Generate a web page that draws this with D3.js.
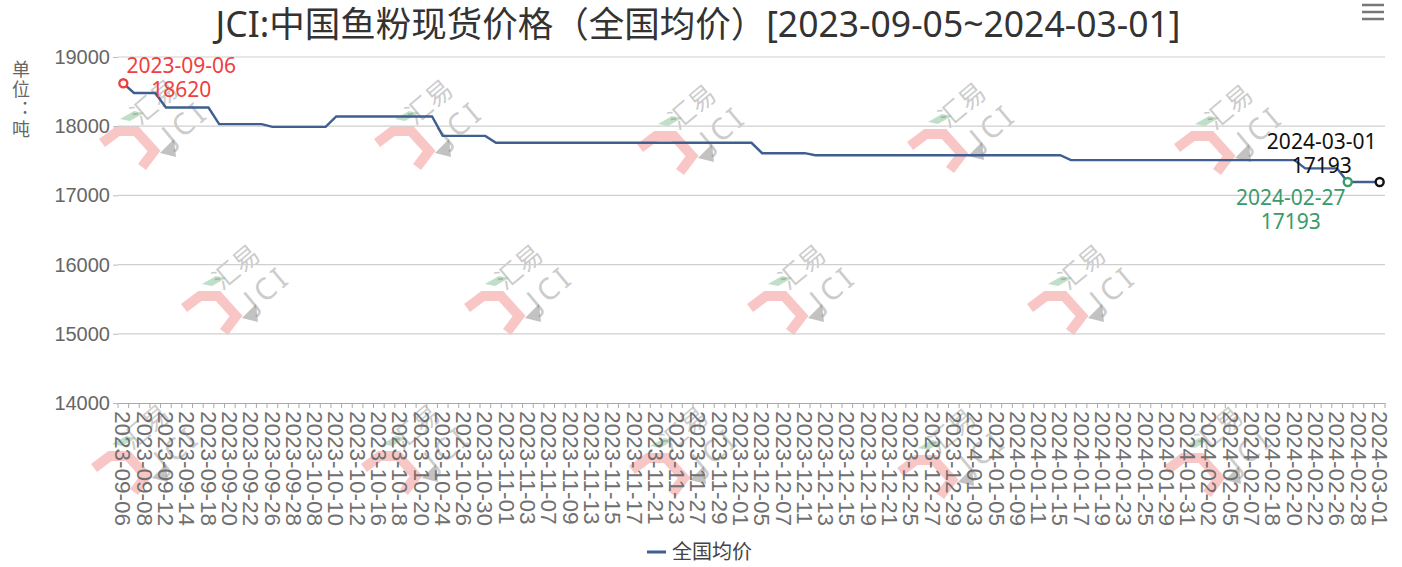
<!DOCTYPE html>
<html>
<head>
<meta charset="utf-8">
<script src="https://cdn.jsdelivr.net/npm/d3@7"></script>
<style>
  body { margin: 0; background: #fff; }
  svg { font-family: "Noto Sans", "Noto Sans CJK SC", sans-serif; }
</style>
</head>
<body>
<svg id="chart"></svg>
<script>
// trading days (category axis)
const dates = [
  "2023-09-06","2023-09-07","2023-09-08","2023-09-11","2023-09-12","2023-09-13","2023-09-14","2023-09-15",
  "2023-09-18","2023-09-19","2023-09-20","2023-09-21","2023-09-22","2023-09-25","2023-09-26","2023-09-27",
  "2023-09-28","2023-10-07","2023-10-08","2023-10-09","2023-10-10","2023-10-11","2023-10-12","2023-10-13",
  "2023-10-16","2023-10-17","2023-10-18","2023-10-19","2023-10-20","2023-10-23","2023-10-24","2023-10-25",
  "2023-10-26","2023-10-27","2023-10-30","2023-10-31","2023-11-01","2023-11-02","2023-11-03","2023-11-06",
  "2023-11-07","2023-11-08","2023-11-09","2023-11-10","2023-11-13","2023-11-14","2023-11-15","2023-11-16",
  "2023-11-17","2023-11-20","2023-11-21","2023-11-22","2023-11-23","2023-11-24","2023-11-27","2023-11-28",
  "2023-11-29","2023-11-30","2023-12-01","2023-12-04","2023-12-05","2023-12-06","2023-12-07","2023-12-08",
  "2023-12-11","2023-12-12","2023-12-13","2023-12-14","2023-12-15","2023-12-18","2023-12-19","2023-12-20",
  "2023-12-21","2023-12-22","2023-12-25","2023-12-26","2023-12-27","2023-12-28","2023-12-29","2024-01-02",
  "2024-01-03","2024-01-04","2024-01-05","2024-01-08","2024-01-09","2024-01-10","2024-01-11","2024-01-12",
  "2024-01-15","2024-01-16","2024-01-17","2024-01-18","2024-01-19","2024-01-22","2024-01-23","2024-01-24",
  "2024-01-25","2024-01-26","2024-01-29","2024-01-30","2024-01-31","2024-02-01","2024-02-02","2024-02-04",
  "2024-02-05","2024-02-06","2024-02-07","2024-02-08","2024-02-18","2024-02-19","2024-02-20","2024-02-21",
  "2024-02-22","2024-02-23","2024-02-26","2024-02-27","2024-02-28","2024-02-29","2024-03-01"
];

// 全国均价, 元/吨
const prices = [
  18620,18480,18480,18480,18270,18270,18270,18270,
  18270,18030,18030,18030,18030,18030,17990,17990,
  17990,17990,17990,17990,18140,18140,18140,18140,
  18140,18140,18140,18140,18140,18140,17860,17860,
  17860,17860,17860,17760,17760,17760,17760,17760,
  17760,17760,17760,17760,17760,17760,17760,17760,
  17760,17760,17760,17760,17760,17760,17760,17760,
  17760,17760,17760,17760,17610,17610,17610,17610,
  17610,17580,17580,17580,17580,17580,17580,17580,
  17580,17580,17580,17580,17580,17580,17580,17580,
  17580,17580,17580,17580,17580,17580,17580,17580,
  17580,17510,17510,17510,17510,17510,17510,17510,
  17510,17510,17510,17510,17510,17510,17510,17510,
  17510,17510,17510,17510,17510,17510,17510,17390,
  17390,17390,17390,17193,17193,17193,17193
];

const yTicks = [14000, 15000, 16000, 17000, 18000, 19000];
const seriesName = "全国均价";
const unitLabel = "单位：吨";
const title = "JCI:中国鱼粉现货价格（全国均价）[2023-09-05~2024-03-01]";

const W = 1402, H = 567;
const plotL = 118, plotR = 1385, plotT = 57, plotB = 403;
const lineColor = "#3e5f8f";

const svg = d3.select("#chart").attr("width", W).attr("height", H);

const x = d3.scaleBand().domain(dates).range([plotL, plotR]).paddingInner(0).paddingOuter(0);
const y = d3.scaleLinear().domain([14000, 19000]).range([plotB, plotT]);
const cx = d => x(d) + x.bandwidth() / 2;

// watermark logos
const logoSpots = [
  [130,145],[405,145],[668,150],[938,148],[1205,150],
  [212,310],[495,310],[778,310],[1058,310],
  [122,470],[392,470],[660,472],[928,474],[1195,472]
];
const wm = svg.append("g").attr("class", "watermark");
logoSpots.forEach(p => {
  const g = wm.append("g").attr("transform", `translate(${p[0]},${p[1]})`);
  g.append("path")
    .attr("d", "M-28,-2 L-12,-14 L6,-14 L24,6 L12,22")
    .attr("fill", "none")
    .attr("stroke", "rgba(240,120,120,0.42)")
    .attr("stroke-width", 10)
    .attr("stroke-linejoin", "miter");
  g.append("polygon")
    .attr("points", "-10,-26 4,-34 14,-32 0,-24")
    .attr("fill", "rgba(90,170,110,0.38)");
  g.append("polygon")
    .attr("points", "30,8 44,-6 46,12")
    .attr("fill", "rgba(110,110,110,0.42)");
  g.append("text")
    .attr("transform", "translate(30,-36) rotate(-40)")
    .attr("text-anchor", "middle")
    .style("font-size", "26px")
    .attr("fill", "rgba(120,120,120,0.38)")
    .text("汇易");
  g.append("text")
    .attr("transform", "translate(62,-14) rotate(-40)")
    .attr("text-anchor", "middle")
    .style("font-size", "30px")
    .style("letter-spacing", "4px")
    .attr("fill", "rgba(120,120,120,0.38)")
    .text("JCI");
});

// grid
svg.append("g")
  .selectAll("line")
  .data(yTicks.filter(t => t !== 14000))
  .enter().append("line")
  .attr("x1", plotL).attr("x2", plotR)
  .attr("y1", d => y(d)).attr("y2", d => y(d))
  .attr("stroke", "#cfcfcf").attr("stroke-width", 1.2);

// y axis
const yAxis = svg.append("g")
  .attr("transform", `translate(${plotL},0)`)
  .call(d3.axisLeft(y).tickValues(yTicks).tickSize(5).tickPadding(3).tickFormat(d3.format("d")));
yAxis.select(".domain").remove();
yAxis.selectAll("line").attr("stroke", "#bbb");
yAxis.selectAll("text").attr("fill", "#666").style("font-size", "20px");

// unit label, vertical
svg.append("text")
  .attr("x", 20).attr("y", 60)
  .style("writing-mode", "vertical-rl")
  .style("text-orientation", "upright")
  .style("font-size", "18px")
  .style("letter-spacing", "2px")
  .attr("fill", "#666")
  .text(unitLabel);

// x axis
const xAxis = svg.append("g")
  .attr("transform", `translate(0,${plotB})`)
  .call(d3.axisBottom(x).tickValues(dates.filter((d, i) => i % 2 === 0)).tickSize(0).tickPadding(0));
xAxis.select(".domain").attr("stroke", "#aaa").attr("stroke-width", 1.2);
xAxis.selectAll("text")
  .attr("transform", "rotate(90)")
  .attr("x", 8).attr("y", 0).attr("dy", "0.35em")
  .style("text-anchor", "start")
  .style("font-size", "22.5px")
  .attr("fill", "#707070");
// boundary ticks
xAxis.append("g").selectAll("line")
  .data(dates.map(d => x(d)).concat([plotR]))
  .enter().append("line")
  .attr("x1", d => d).attr("x2", d => d)
  .attr("y1", 0).attr("y2", 5)
  .attr("stroke", "#aaa");

// line
const line = d3.line().x((d, i) => cx(dates[i])).y(d => y(d));
svg.append("path")
  .datum(prices)
  .attr("d", line)
  .attr("fill", "none")
  .attr("stroke", lineColor)
  .attr("stroke-width", 2.4);

// mark points: max, min, last
const iMax = prices.indexOf(d3.max(prices));
const iMin = prices.indexOf(d3.min(prices));
const iLast = prices.length - 1;
const marks = [
  { i: iMax, color: "#ee4040", dx: 58, dy: -18 },
  { i: iMin, color: "#3a9a6a", dx: -57, dy: 15 },
  { i: iLast, color: "#111", dx: -58, dy: -41 }
];
marks.forEach(m => {
  const px = cx(dates[m.i]), py = y(prices[m.i]);
  svg.append("circle")
    .attr("cx", px).attr("cy", py).attr("r", 4)
    .attr("fill", "#fff").attr("stroke", m.color).attr("stroke-width", 2.4);
  const t = svg.append("text")
    .attr("text-anchor", "middle")
    .attr("fill", m.color)
    .style("font-size", "21px");
  t.append("tspan").attr("x", px + m.dx).attr("y", py + m.dy + 8).text(dates[m.i]);
  t.append("tspan").attr("x", px + m.dx).attr("y", py + m.dy + 32).text(prices[m.i]);
});

// title
svg.append("text")
  .attr("x", 698).attr("y", 37)
  .attr("text-anchor", "middle")
  .attr("fill", "#333")
  .style("font-size", "35.5px")
  .text(title);

// toolbox icon
svg.append("g").selectAll("line").data([5, 12, 19]).enter().append("line")
  .attr("x1", 1362).attr("x2", 1384)
  .attr("y1", d => d).attr("y2", d => d)
  .attr("stroke", "#777").attr("stroke-width", 2.5);

// legend
svg.append("line")
  .attr("x1", 647).attr("x2", 666).attr("y1", 552).attr("y2", 552)
  .attr("stroke", lineColor).attr("stroke-width", 3);
svg.append("text")
  .attr("x", 672).attr("y", 559)
  .attr("fill", "#444")
  .style("font-size", "20px")
  .text(seriesName);
</script>
</body>
</html>
